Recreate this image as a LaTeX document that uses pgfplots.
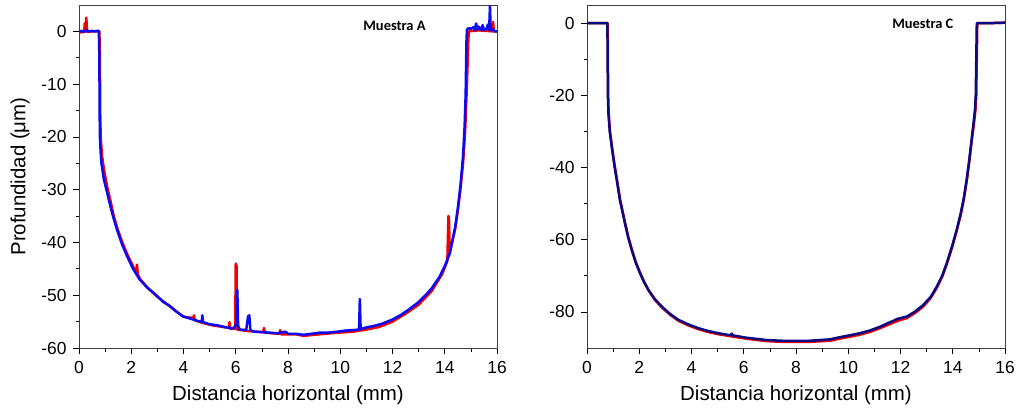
\documentclass[border=0pt]{standalone}
\usepackage{fontspec}
\setmainfont{Liberation Sans}
\newfontfamily\carlito{Carlito}
\usepackage{pgfplots}
\pgfplotsset{compat=1.18}
\definecolor{cred}{RGB}{240,0,0}
\definecolor{cblue}{RGB}{10,10,245}
\definecolor{cnavy}{RGB}{10,10,130}
\pgfplotsset{
  myax/.style={
    scale only axis, width=418bp, height=343bp,
    xmin=0, xmax=16, xtick={0,2,...,16}, minor x tick num=1,
    tick align=outside, xtick pos=bottom, ytick pos=left,
    major tick length=6bp, minor tick length=3.5bp,
    axis line style={black!75, line width=0.8pt},
    every tick/.style={black, line width=0.7pt},
    /pgf/number format/assume math mode=true,
    tick label style={font=\fontsize{17.5}{19}\selectfont},
    xticklabel style={yshift=-4bp},
    yticklabel style={xshift=-3bp},
    label style={font=\fontsize{20.5}{24}\selectfont},
    xlabel={Distancia horizontal (mm)},
    xlabel style={at={(axis description cs:0.5,-0.137)}, anchor=center},
    every axis plot/.append style={line join=round, line cap=round},
    clip=true,
  }
}
\begin{document}
\begin{tikzpicture}
\useasboundingbox (0,0) rectangle (1019bp,411bp);
\begin{axis}[myax, at={(79bp,63bp)}, anchor=south west,
  ymin=-60, ymax=5, ytick={0,-10,...,-60}, minor y tick num=1,
  ylabel={Profundidad (μm)},
  ylabel style={at={(axis description cs:-0.141,0.5)}, anchor=center}]
\addplot[cred, line width=2.5pt] coordinates {
(0,-0.2) (0.2,-0.1) (0.22,1.5) (0.26,1.3) (0.28,2.6) (0.31,-0.1) (0.5,0) (0.78,0)
(0.8,-5) (0.81,-15) (0.83,-20) (0.88,-23.5) (0.95,-26) (1.08,-29.5) (1.2,-32)
(1.33,-35) (1.48,-37.5) (1.66,-40) (1.87,-42.5) (2.1,-44.8) (2.2,-45.5) (2.22,-44.2)
(2.25,-46) (2.35,-47) (2.65,-48.7) (3.0,-50.3) (3.5,-52.2) (4.0,-54.1) (4.38,-54.3)
(4.4,-53.8) (4.43,-54.7) (4.7,-55.2) (5.1,-55.7) (5.5,-56) (5.73,-56.2) (5.76,-55.1)
(5.79,-56.4) (5.98,-56.3) (6.0,-44) (6.03,-44.5) (6.05,-56.5) (6.5,-56.8) (7.05,-57)
(7.08,-56.2) (7.12,-57.1) (7.68,-57.3) (7.7,-56.6) (7.73,-57.4) (8.3,-57.4) (8.6,-57.7)
(9.2,-57.4) (9.9,-57.1) (10.5,-56.9) (11,-56.5) (11.5,-56) (12,-55) (12.5,-53.5)
(13,-51.8) (13.5,-49.2) (13.9,-46) (14.1,-43.5) (14.14,-35) (14.16,-35.3) (14.19,-41.8)
(14.4,-37.5) (14.5,-34) (14.6,-30) (14.7,-25) (14.78,-19) (14.85,-10) (14.9,-2)
(14.92,0) (15.3,0.2) (15.6,0.1) (15.82,0) (15.85,1.8) (15.88,0) (16,0)
};
\addplot[cblue, line width=2.5pt] coordinates {
(0,0) (0.1,0.1) (0.2,-0.1) (0.3,0.2) (0.4,0) (0.5,0.1) (0.6,0) (0.7,0.1) (0.76,0.1)
(0.78,-5) (0.79,-15) (0.80,-20) (0.83,-23) (0.86,-25) (0.95,-28) (1.05,-30) (1.17,-32.5)
(1.30,-35) (1.45,-37.5) (1.62,-40) (1.83,-42.5) (2.07,-45) (2.32,-47) (2.6,-48.5)
(2.96,-50) (3.2,-51.2) (3.47,-52) (3.7,-53) (3.98,-54) (4.3,-54.5) (4.62,-55) (4.7,-55)
(4.72,-53.8) (4.75,-55.1) (5.0,-55.5) (5.3,-55.7) (5.64,-56.1) (5.9,-56.3) (6.03,-55.5)
(6.06,-49) (6.09,-55.8) (6.15,-56.5) (6.4,-56.6) (6.47,-54) (6.52,-53.8) (6.56,-56.6)
(6.7,-56.9) (7.0,-57) (7.3,-57.1) (7.6,-57.2) (7.9,-56.9) (8.0,-57.3) (8.3,-57.3)
(8.6,-57.5) (8.9,-57.3) (9.2,-57.1) (9.5,-57.1) (9.9,-56.9) (10.2,-56.7) (10.5,-56.6)
(10.72,-56.5) (10.75,-50.7) (10.78,-56.4) (11.0,-56.1) (11.3,-55.8) (11.6,-55.4)
(12.0,-54.6) (12.3,-53.8) (12.6,-52.8) (13.0,-51.3) (13.3,-49.8) (13.5,-48.7)
(13.8,-46.5) (14.0,-44.5) (14.2,-42) (14.4,-37) (14.5,-33.5) (14.6,-29.3) (14.7,-23.6)
(14.76,-18) (14.8,-12) (14.83,-2) (14.85,0.3) (14.9,0.6) (15.0,0.5) (15.1,0.8)
(15.15,0.2) (15.2,1.5) (15.25,0.4) (15.3,0.9) (15.4,0.2) (15.45,1.2) (15.5,0.3)
(15.6,0.5) (15.65,1.3) (15.7,0.3) (15.73,4.8) (15.76,0.2) (15.85,0.4) (15.9,0) (16,0)
};
\node[font=\carlito\bfseries\fontsize{14.5}{16}\selectfont, anchor=west] at (axis cs:10.75,1) {Muestra A};
\end{axis}
\begin{axis}[myax, at={(587bp,63bp)}, anchor=south west,
  ymin=-90, ymax=5, ytick={0,-20,...,-80}, minor y tick num=1]
\addplot[cred, line width=2.5pt] coordinates {
(0,0) (0.5,0) (0.79,0) (0.8,-10) (0.81,-20) (0.83,-25) (0.88,-30) (0.97,-35) (1.07,-40)
(1.15,-43.5) (1.27,-49) (1.46,-55.4) (1.58,-59.2) (1.72,-62.8) (1.87,-66.3) (2.04,-69.3)
(2.2,-71.9) (2.36,-74.1) (2.6,-76.7) (2.87,-78.8) (3.18,-80.8) (3.51,-82.5)
(3.9,-83.8) (4.27,-84.8) (4.65,-85.6) (5.04,-86.2) (5.55,-86.8) (6.06,-87.4)
(6.87,-88.1) (7.5,-88.3) (8.5,-88.3) (9.3,-88) (9.68,-87.4) (10.05,-86.9) (10.45,-86.3)
(10.85,-85.5) (11.22,-84.5) (11.55,-83.5) (11.85,-82.6) (12.24,-81.7) (12.56,-80.3)
(12.87,-78.5) (13.15,-76.2) (13.39,-73.3) (13.6,-70.2) (13.78,-66.6) (13.98,-62)
(14.16,-57.3) (14.3,-53.3) (14.42,-49) (14.54,-43.5) (14.64,-38) (14.72,-33)
(14.81,-28) (14.87,-24) (14.9,-20) (14.92,-10) (14.94,0) (15.5,0) (16,0.1)
};
\addplot[cnavy, line width=2.5pt] coordinates {
(0,0) (0.5,0) (0.78,0) (0.79,-10) (0.8,-20) (0.82,-25) (0.87,-30) (0.96,-35) (1.06,-40)
(1.14,-43.5) (1.26,-49) (1.45,-55.4) (1.57,-59.2) (1.71,-62.8) (1.86,-66.2) (2.03,-69.3)
(2.19,-71.8) (2.35,-73.9) (2.59,-76.4) (2.86,-78.5) (3.17,-80.5) (3.50,-82.2)
(3.89,-83.5) (4.26,-84.5) (4.64,-85.3) (5.03,-85.9) (5.50,-86.5) (5.54,-86.0)
(5.58,-86.5) (6.05,-87.1) (6.87,-87.8) (7.5,-88) (8.5,-88) (9.3,-87.6) (9.68,-87.0)
(10.05,-86.5) (10.45,-85.9) (10.85,-85.1) (11.22,-84.1) (11.55,-83.0) (11.75,-82.4)
(11.85,-82.0) (12.24,-81.3) (12.56,-79.9) (12.87,-78.1) (13.15,-75.9) (13.39,-73.0)
(13.6,-69.9) (13.77,-66.5) (13.97,-61.9) (14.15,-57.3) (14.29,-53.2) (14.41,-49.0)
(14.53,-43.5) (14.63,-38) (14.71,-33) (14.79,-28) (14.85,-24) (14.88,-20) (14.9,-10)
(14.92,0) (15.5,0) (16,0.1)
};
\node[font=\carlito\bfseries\fontsize{14.5}{16}\selectfont, anchor=west] at (axis cs:11.55,-0.3) {Muestra C};
\end{axis}
\end{tikzpicture}
\end{document}
